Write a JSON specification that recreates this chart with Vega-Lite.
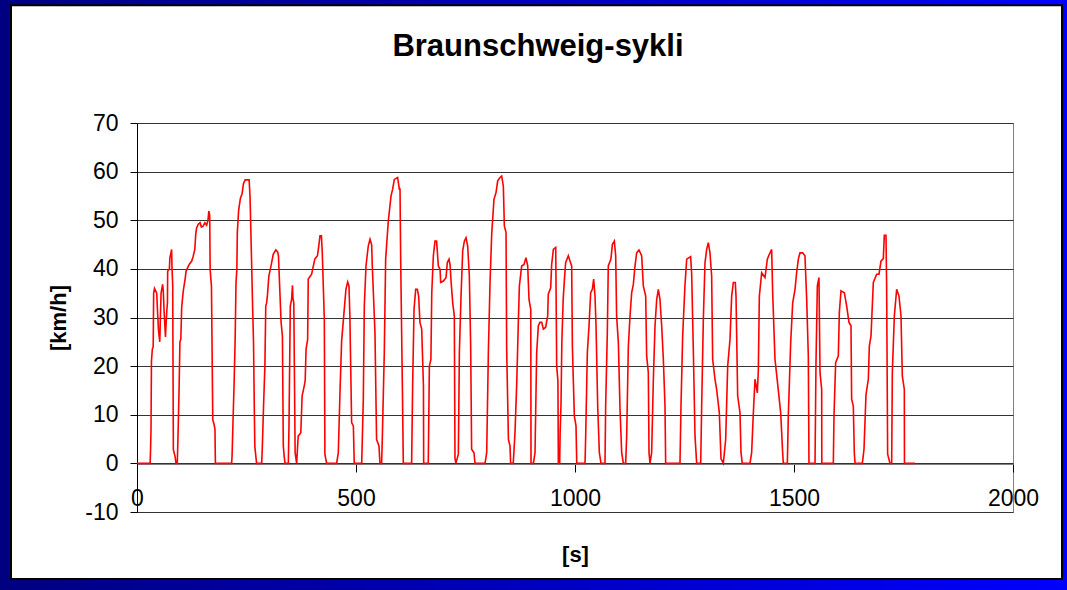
{
  "$schema": "https://vega.github.io/schema/vega-lite/v6.json",
  "width": 876,
  "height": 389,
  "autosize": "none",
  "padding": {"left": 137, "top": 123, "right": 54, "bottom": 78},
  "background": "white",
  "title": {
    "text": "Braunschweig-sykli",
    "font": "Liberation Sans",
    "fontSize": 31,
    "fontWeight": "bold",
    "color": "black",
    "anchor": "middle",
    "dx": -37,
    "offset": -88
  },
  "config": {
    "view": {"stroke": "#808080", "strokeWidth": 1},
    "axis": {"labelFont": "Liberation Sans", "titleFont": "Liberation Sans", "labelColor": "black", "titleColor": "black"}
  },
  "layer": [
    {
      "data": {
        "values": [
          {"t":0,"v":0},{"t":30,"v":0},{"t":31,"v":3},{"t":32,"v":7},{"t":33,"v":21},{"t":35,"v":23.5},{"t":37,"v":24},{"t":38,"v":35},{"t":40,"v":36},{"t":45,"v":35},{"t":47,"v":31},{"t":49,"v":27.5},{"t":52,"v":25},{"t":54,"v":32},{"t":55,"v":35},{"t":58.5,"v":36.8},{"t":60,"v":35.5},{"t":62,"v":31},{"t":65,"v":26},{"t":66,"v":28},{"t":68,"v":31.3},{"t":69.5,"v":33},{"t":70,"v":39.5},{"t":74,"v":40},{"t":75,"v":42.2},{"t":77.5,"v":43.3},{"t":79,"v":44},{"t":80,"v":40},{"t":81.5,"v":36.8},{"t":83,"v":2.8},{"t":87,"v":1.4},{"t":89,"v":0},{"t":92,"v":0},
          {"t":94,"v":7},{"t":96,"v":15},{"t":98,"v":25},{"t":100,"v":25.5},{"t":102,"v":32},{"t":104,"v":34},{"t":106,"v":35.7},{"t":110,"v":38},{"t":112,"v":39.5},{"t":117,"v":40.5},{"t":120,"v":41},{"t":125,"v":41.6},{"t":128,"v":42.5},{"t":132,"v":44},{"t":134,"v":47},{"t":136,"v":48.4},{"t":140,"v":49.2},{"t":144,"v":49.5},{"t":147,"v":48.6},{"t":151,"v":48.8},{"t":155,"v":49.5},{"t":159,"v":49},{"t":162,"v":50},{"t":164,"v":51.9},{"t":166,"v":51},{"t":167,"v":39.8},{"t":170,"v":36.4},{"t":173,"v":9},{"t":176,"v":8},{"t":178,"v":7},{"t":179,"v":0},
          {"t":216,"v":0},{"t":217,"v":1.4},{"t":219,"v":8},{"t":221.5,"v":15.8},{"t":224,"v":25},{"t":226,"v":37},{"t":228,"v":40},{"t":229,"v":47.4},{"t":232,"v":52},{"t":236,"v":54.5},{"t":240,"v":55.5},{"t":243,"v":57.5},{"t":247,"v":58.3},{"t":256,"v":58.3},{"t":258,"v":55},{"t":259,"v":51.5},{"t":262,"v":40},{"t":264,"v":32},{"t":266,"v":25},{"t":268,"v":10},{"t":269,"v":3.5},{"t":273,"v":0},
          {"t":284.6,"v":0},{"t":286,"v":3},{"t":289,"v":12},{"t":292,"v":20},{"t":294,"v":32.4},{"t":296,"v":33},{"t":298,"v":34.8},{"t":301,"v":38.5},{"t":306,"v":40.6},{"t":311,"v":43},{"t":317,"v":43.9},{"t":321,"v":43.5},{"t":323,"v":42.7},{"t":324,"v":40.3},{"t":329,"v":29},{"t":332,"v":26.2},{"t":334,"v":3.6},{"t":336,"v":1.5},{"t":338,"v":0},
          {"t":345.5,"v":0},{"t":347,"v":7.7},{"t":350,"v":32.4},{"t":353,"v":33.7},{"t":355,"v":36.6},{"t":356,"v":34},{"t":358,"v":33},{"t":361,"v":2.2},{"t":364.5,"v":0},
          {"t":368,"v":5.6},{"t":374,"v":6.3},{"t":377,"v":13.9},{"t":382,"v":16},{"t":384,"v":17},{"t":386,"v":23.5},{"t":389.6,"v":25.5},{"t":391,"v":37.9},{"t":398.7,"v":38.9},{"t":400,"v":39.5},{"t":406,"v":42},{"t":410,"v":42.5},{"t":412,"v":42.7},{"t":414,"v":44},{"t":417.8,"v":46.8},{"t":421,"v":46.8},{"t":423,"v":43.3},{"t":427.7,"v":29.6},{"t":429,"v":1.9},{"t":433,"v":0},
          {"t":455.8,"v":0},{"t":459.6,"v":2.2},{"t":463.4,"v":14.5},{"t":467.2,"v":25.2},{"t":472.6,"v":31},{"t":477,"v":35.8},{"t":481,"v":37.3},{"t":484,"v":36.5},{"t":486,"v":30.3},{"t":490,"v":8.4},{"t":494,"v":7.7},{"t":496,"v":0},
          {"t":513,"v":0},{"t":516.7,"v":13.2},{"t":519,"v":32.4},{"t":522.8,"v":40.6},{"t":528,"v":44.7},{"t":532,"v":46.1},{"t":535.7,"v":45},{"t":537.2,"v":40.6},{"t":543.3,"v":26.9},{"t":547,"v":4.9},{"t":552.5,"v":3.6},{"t":554.7,"v":0},
          {"t":558.5,"v":0},{"t":560,"v":4.9},{"t":564.6,"v":22.8},{"t":567.7,"v":42},{"t":573.8,"v":49.9},{"t":580,"v":55},{"t":583.7,"v":56.4},{"t":587.5,"v":58.4},{"t":595,"v":58.8},{"t":599,"v":56.4},{"t":600.5,"v":56.4},{"t":602,"v":42},{"t":605,"v":21.4},{"t":606,"v":15},{"t":608,"v":0},
          {"t":627,"v":0},{"t":629.4,"v":16.6},{"t":632.5,"v":31.7},{"t":636.3,"v":35.8},{"t":640,"v":35.8},{"t":643,"v":34.4},{"t":646,"v":29},{"t":650,"v":27.6},{"t":654,"v":15.9},{"t":654.5,"v":0},
          {"t":665,"v":0},{"t":667.5,"v":20},{"t":671,"v":21.4},{"t":673,"v":35.1},{"t":676.6,"v":42.7},{"t":680.4,"v":45.7},{"t":684,"v":45.7},{"t":688,"v":40.6},{"t":692,"v":39.9},{"t":693.3,"v":37.2},{"t":699.4,"v":37.5},{"t":705.5,"v":38.2},{"t":708.5,"v":41.3},{"t":712.4,"v":42},{"t":714.7,"v":40.9},{"t":717,"v":37.5},{"t":720.8,"v":33},{"t":724.5,"v":30.3},{"t":726,"v":1},{"t":728,"v":0},
          {"t":733.7,"v":1.9},{"t":736,"v":22.8},{"t":739.8,"v":34.4},{"t":743.6,"v":43.7},{"t":747.4,"v":45.7},{"t":751.2,"v":46.4},{"t":755,"v":44.7},{"t":758.8,"v":38.5},{"t":761.8,"v":24.1},{"t":764,"v":2.9},{"t":769.4,"v":2.2},{"t":771.7,"v":0},
          {"t":794.6,"v":0},{"t":798.4,"v":2.2},{"t":802.2,"v":22.8},{"t":806,"v":37.2},{"t":809.8,"v":47.1},{"t":815,"v":54.3},{"t":819.7,"v":55.7},{"t":823.5,"v":58.1},{"t":828.8,"v":58.8},{"t":832.6,"v":59.1},{"t":836.4,"v":57},{"t":838.7,"v":48.8},{"t":842.5,"v":47.5},{"t":844,"v":23.5},{"t":848,"v":4.9},{"t":851.6,"v":3.6},{"t":853,"v":0},
          {"t":859,"v":0},{"t":863,"v":6.3},{"t":867,"v":16.6},{"t":870.6,"v":29},{"t":873,"v":36.5},{"t":878.3,"v":40.6},{"t":883.6,"v":40.9},{"t":888,"v":42.3},{"t":892,"v":40.6},{"t":895,"v":33.7},{"t":899,"v":31.7},{"t":899.6,"v":0},{"t":905,"v":0},
          {"t":908.7,"v":2.2},{"t":912.5,"v":22.8},{"t":916.3,"v":28.3},{"t":920,"v":29},{"t":924,"v":29},{"t":927.7,"v":27.6},{"t":933,"v":28},{"t":937.6,"v":30.3},{"t":939,"v":34.8},{"t":944.5,"v":36.1},{"t":946.7,"v":40.9},{"t":950.6,"v":44},{"t":956,"v":44.4},{"t":958.2,"v":20},{"t":961,"v":17},{"t":962,"v":0},{"t":965,"v":0},{"t":966,"v":6},{"t":968,"v":12},{"t":970,"v":25},{"t":973,"v":33.7},{"t":976,"v":38},{"t":978.7,"v":41.3},{"t":984.8,"v":42.7},{"t":988.6,"v":41.6},{"t":992.4,"v":40.6},{"t":994,"v":24.1},{"t":998.5,"v":9.7},{"t":1002.3,"v":7.7},{"t":1004,"v":0},
          {"t":1022.9,"v":0},{"t":1024.4,"v":5.6},{"t":1028.2,"v":22.8},{"t":1032,"v":28.3},{"t":1035.8,"v":35.1},{"t":1039.6,"v":35.8},{"t":1042.6,"v":37.9},{"t":1045.7,"v":34.4},{"t":1048,"v":28.3},{"t":1051.8,"v":11.8},{"t":1055.6,"v":2.2},{"t":1059.4,"v":0},
          {"t":1068.5,"v":0},{"t":1070,"v":11.8},{"t":1073.8,"v":26.9},{"t":1076,"v":40.6},{"t":1082,"v":42},{"t":1085.3,"v":45},{"t":1089.8,"v":45.7},{"t":1092.9,"v":42.7},{"t":1095,"v":30.3},{"t":1099,"v":24.8},{"t":1102.8,"v":11.1},{"t":1106.6,"v":2.2},{"t":1110.4,"v":0},
          {"t":1115.7,"v":0},{"t":1118,"v":5.6},{"t":1121.8,"v":24.1},{"t":1125.6,"v":30.3},{"t":1129.4,"v":35.1},{"t":1133.2,"v":36.8},{"t":1137,"v":40.6},{"t":1140.8,"v":43.3},{"t":1146,"v":43.9},{"t":1152.2,"v":42.7},{"t":1156,"v":36.5},{"t":1161.4,"v":34.4},{"t":1163.6,"v":22.1},{"t":1167.4,"v":18.7},{"t":1169,"v":2.2},{"t":1171.3,"v":0},
          {"t":1175,"v":2.2},{"t":1178.9,"v":17.3},{"t":1182.7,"v":28.3},{"t":1186.5,"v":33.7},{"t":1190.3,"v":35.8},{"t":1194,"v":33.7},{"t":1197.9,"v":28.3},{"t":1201.7,"v":21.4},{"t":1205.5,"v":11.8},{"t":1207,"v":0},
          {"t":1239.7,"v":0},{"t":1242,"v":11.8},{"t":1245.8,"v":26.2},{"t":1251,"v":36.5},{"t":1255,"v":42},{"t":1260.3,"v":42.3},{"t":1264,"v":42.5},{"t":1266.4,"v":38.9},{"t":1270.2,"v":23.1},{"t":1274,"v":5.6},{"t":1277.8,"v":0},
          {"t":1287,"v":0},{"t":1289.2,"v":11.8},{"t":1293,"v":29.6},{"t":1296.8,"v":41.3},{"t":1300.6,"v":44},{"t":1304.4,"v":45.4},{"t":1308.2,"v":43.3},{"t":1312,"v":38.5},{"t":1314.3,"v":21.4},{"t":1319.6,"v":17.3},{"t":1323.4,"v":15.2},{"t":1329.5,"v":10.4},{"t":1333.3,"v":1},{"t":1338.7,"v":0},
          {"t":1344,"v":4.9},{"t":1348.6,"v":20},{"t":1353.9,"v":25.5},{"t":1357.7,"v":34.4},{"t":1361.5,"v":37.2},{"t":1366,"v":37.2},{"t":1367.6,"v":34.4},{"t":1371.4,"v":13.9},{"t":1376.7,"v":10.4},{"t":1379,"v":2.2},{"t":1382,"v":0},
          {"t":1399.5,"v":0},{"t":1403.3,"v":2.2},{"t":1407.2,"v":10.4},{"t":1411,"v":17.3},{"t":1416.3,"v":14.5},{"t":1418.6,"v":19.3},{"t":1420.9,"v":34.4},{"t":1426.2,"v":39.2},{"t":1433.8,"v":38.2},{"t":1439.1,"v":42},{"t":1443.7,"v":43},{"t":1449,"v":44},{"t":1451.3,"v":35.1},{"t":1456.6,"v":21.4},{"t":1462,"v":16.9},{"t":1469.6,"v":10.4},{"t":1474.1,"v":2.2},{"t":1475.6,"v":0},
          {"t":1484.8,"v":0},{"t":1487,"v":9.7},{"t":1492.4,"v":24.8},{"t":1497,"v":33},{"t":1502.3,"v":35.8},{"t":1506,"v":39.2},{"t":1509.9,"v":42},{"t":1513.7,"v":43.3},{"t":1519.8,"v":43.3},{"t":1525,"v":42.7},{"t":1529,"v":33.7},{"t":1532.7,"v":22.1},{"t":1534.2,"v":0},
          {"t":1548,"v":0},{"t":1550.2,"v":20.7},{"t":1553.3,"v":36.5},{"t":1557,"v":38.2},{"t":1559.4,"v":18.7},{"t":1563.2,"v":15.2},{"t":1563.5,"v":0},
          {"t":1589.8,"v":0},{"t":1591.3,"v":9.7},{"t":1595.1,"v":20.7},{"t":1601.2,"v":22.1},{"t":1603.5,"v":31},{"t":1607.3,"v":35.5},{"t":1614.9,"v":35.1},{"t":1620.2,"v":32.4},{"t":1625.6,"v":29},{"t":1630.1,"v":28.3},{"t":1631.6,"v":13.2},{"t":1635.4,"v":11.8},{"t":1637.7,"v":2.2},{"t":1639.3,"v":0},
          {"t":1656,"v":0},{"t":1659.8,"v":2.9},{"t":1664.4,"v":14.2},{"t":1669.7,"v":17.3},{"t":1672,"v":24.1},{"t":1675.8,"v":26.2},{"t":1681.1,"v":37.2},{"t":1688.7,"v":38.9},{"t":1694,"v":38.9},{"t":1698.6,"v":41.6},{"t":1703.9,"v":42.1},{"t":1706.2,"v":46.9},{"t":1710,"v":46.9},{"t":1711.5,"v":36.5},{"t":1713.8,"v":1.9},{"t":1719.2,"v":0},
          {"t":1723,"v":0},{"t":1724.5,"v":18.7},{"t":1729.1,"v":30.3},{"t":1734.4,"v":35.8},{"t":1739.7,"v":34.4},{"t":1744.3,"v":30.3},{"t":1747.3,"v":18},{"t":1751.9,"v":15.2},{"t":1752.2,"v":0},{"t":1776,"v":0}
        ]
      },
      "mark": {"type": "line", "color": "#ff0000", "strokeWidth": 1.6},
      "encoding": {
        "x": {
          "field": "t",
          "type": "quantitative",
          "sort": null,
          "scale": {"domain": [0, 2000], "nice": false, "zero": false},
          "axis": {
            "values": [0, 500, 1000, 1500, 2000],
            "labelExpr": "'' + datum.value",
            "offset": -48,
            "grid": false,
            "title": "[s]",
            "titleFontSize": 22,
            "titleFontWeight": "bold",
            "titlePadding": 34,
            "labelFontSize": 23,
            "labelPadding": 15,
            "labelFlush": false,
            "labelOverlap": false,
            "labelBound": false,
            "tickSize": 8,
            "tickColor": "black",
            "domainColor": "#808080"
          }
        },
        "y": {
          "field": "v",
          "type": "quantitative",
          "scale": {"domain": [-10, 70], "nice": false, "zero": false},
          "axis": {
            "values": [-10, 0, 10, 20, 30, 40, 50, 60, 70],
            "labelExpr": "'' + datum.value",
            "title": "[km/h]",
            "titleFontSize": 22,
            "titleFontWeight": "bold",
            "titlePadding": 14,
            "labelFontSize": 23,
            "labelPadding": 12,
            "tickSize": 7,
            "tickColor": "black",
            "domainColor": "black",
            "gridColor": "#333333",
            "gridOpacity": 1
          }
        }
      }
    },
    {
      "data": {"values": [{"frame": "outer"}]},
      "mark": {
        "type": "rect",
        "filled": false,
        "strokeWidth": 30,
        "stroke": {
          "gradient": "linear",
          "x1": 0, "y1": 0, "x2": 1, "y2": 0,
          "stops": [
            {"offset": 0, "color": "#000080"},
            {"offset": 1, "color": "#0000ff"}
          ]
        }
      },
      "encoding": {
        "x": {"datum": -321.9, "type": "quantitative"},
        "x2": {"datum": 2146.1},
        "y": {"datum": 97.3, "type": "quantitative"},
        "y2": {"datum": -26.8}
      }
    },
    {
      "data": {"values": [{"frame": "inner"}]},
      "mark": {"type": "rect", "filled": false, "stroke": "black", "strokeWidth": 2},
      "encoding": {
        "x": {"datum": -287.7, "type": "quantitative"},
        "x2": {"datum": 2111.9},
        "y": {"datum": 94.2, "type": "quantitative"},
        "y2": {"datum": -23.8}
      }
    }
  ]
}
